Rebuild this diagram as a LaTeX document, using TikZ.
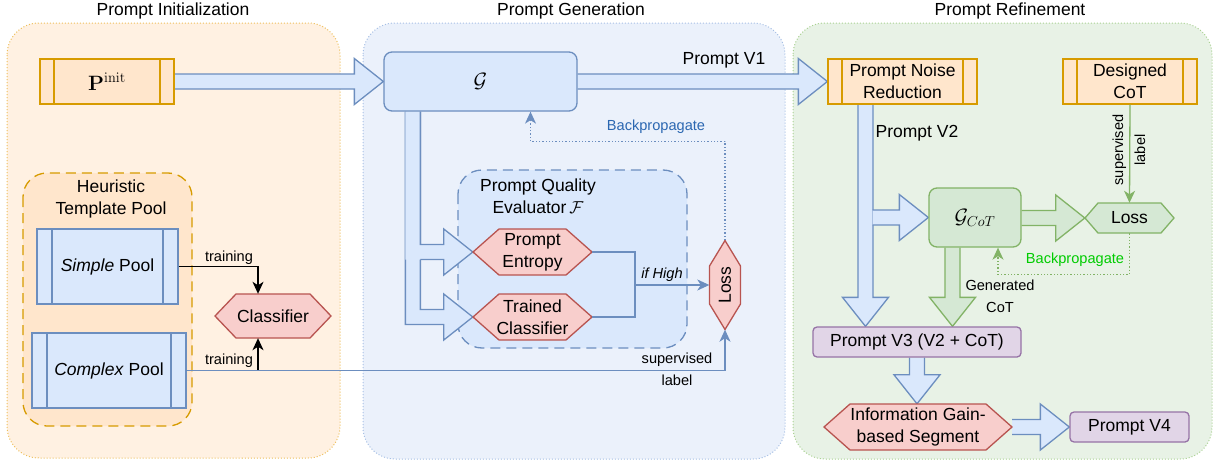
\documentclass[tikz,border=0pt]{standalone}
\usepackage{graphicx}
\usepackage[no-math]{fontspec}
\setsansfont{Liberation Sans}
\usetikzlibrary{arrows.meta,calc}
\definecolor{obg}{HTML}{FFF1E2}
\definecolor{bbg}{HTML}{EBF1FB}
\definecolor{gbg}{HTML}{E8F2E6}
\definecolor{obord}{HTML}{EDBE5A}
\definecolor{bbord}{HTML}{A6BFE4}
\definecolor{gbord}{HTML}{A9D191}
\definecolor{ofill}{HTML}{FFE6CC}
\definecolor{odraw}{HTML}{D79B00}
\definecolor{bfill}{HTML}{DAE8FC}
\definecolor{bdraw}{HTML}{6C8EBF}
\definecolor{gfill}{HTML}{D5E8D4}
\definecolor{gdraw}{HTML}{82B366}
\definecolor{rfill}{HTML}{F8CECC}
\definecolor{rdraw}{HTML}{B85450}
\definecolor{pfill}{HTML}{E1D5E7}
\definecolor{pdraw}{HTML}{9673A6}
\definecolor{bptext}{HTML}{2B67B1}
\definecolor{gptext}{HTML}{00CC00}
\newcommand\mainf{\sffamily\fontsize{17.5}{22}\selectfont}
\newcommand\smallf{\sffamily\fontsize{14.6}{22}\selectfont}
\newcommand\bigf{\fontsize{20}{22}\selectfont}
\pgfdeclarelayer{bg}
\pgfdeclarelayer{mid}
\pgfsetlayers{bg,mid,main}
% right-pointing flex arrow: start x from #2, tip #3
\newcommand\rflex[3]{\path[#1] let \p1=(#2), \p2=(#3) in (\x1,\y2+7.5pt) -- (\x2-29pt,\y2+7.5pt) -- (\x2-29pt,\y2+23pt) -- (\x2,\y2) -- (\x2-29pt,\y2-23pt) -- (\x2-29pt,\y2-7.5pt) -- (\x1,\y2-7.5pt);}
% down-pointing flex arrow: start #2, tip y from #3
\newcommand\dflex[3]{\path[#1] let \p1=(#2), \p2=(#3) in (\x1-7.5pt,\y1) -- (\x1-7.5pt,\y2+29pt) -- (\x1-23pt,\y2+29pt) -- (\x1,\y2) -- (\x1+23pt,\y2+29pt) -- (\x1+7.5pt,\y2+29pt) -- (\x1+7.5pt,\y1);}
% hexagon node: fill, draw, name, x, y, w, h, indent, text
\newcommand\hexnode[9]{%
 \draw[fill=#1,draw=#2,line width=1.3pt] ({#4-#6/2},#5) -- ({#4-#6/2+#8},{#5-#7/2}) -- ({#4+#6/2-#8},{#5-#7/2}) -- ({#4+#6/2},#5) -- ({#4+#6/2-#8},{#5+#7/2}) -- ({#4-#6/2+#8},{#5+#7/2}) -- cycle;
 \node[inner sep=0pt,minimum width=#6pt,minimum height=#7pt,align=center,font=\mainf] (#3) at (#4,#5) {#9};}
\begin{document}
\begin{tikzpicture}[x=1pt,y=-1pt,
  panel/.style={dotted,line width=1pt,rounded corners=32pt},
  region/.style={line width=1.3pt,dash pattern=on 10pt off 6pt,rounded corners=24pt},
  procO/.style={draw=odraw,fill=ofill,line width=1.3pt,inner sep=0pt,align=center,font=\mainf,
    path picture={\draw[odraw,line width=1.3pt] ([xshift=14pt]path picture bounding box.north west) -- ([xshift=14pt]path picture bounding box.south west) ([xshift=-14pt]path picture bounding box.north east) -- ([xshift=-14pt]path picture bounding box.south east);}},
  procB/.style={draw=bdraw,fill=bfill,line width=1.3pt,inner sep=0pt,align=center,font=\mainf,
    path picture={\draw[bdraw,line width=1.3pt] ([xshift=15pt]path picture bounding box.north west) -- ([xshift=15pt]path picture bounding box.south west) ([xshift=-15pt]path picture bounding box.north east) -- ([xshift=-15pt]path picture bounding box.south east);}},
  rbox/.style={line width=1.3pt,rounded corners=8pt,inner sep=0pt,align=center,font=\mainf},
  pbox/.style={draw=pdraw,fill=pfill,line width=1.3pt,rounded corners=4pt,inner sep=0pt,align=center,font=\mainf},
  bflex/.style={fill=bfill,draw=bdraw,line width=1.3pt},
  gflex/.style={fill=gfill,draw=gdraw,line width=1.3pt},
  tip/.style={-{Stealth[length=12pt,width=11pt,inset=3.5pt]}},
  blk/.style={black,line width=1.3pt,tip},
  bcon/.style={draw=bdraw,line width=1.3pt},
  gcon/.style={draw=gdraw,line width=1.3pt},
  lab/.style={font=\smallf,align=center,inner sep=0pt},
  ttl/.style={font=\mainf,inner sep=0pt}]
\useasboundingbox (0,0) rectangle (1216,463);
% ---------- panels ----------
\begin{pgfonlayer}{bg}
\draw[panel,fill=obg,draw=obord] (7,23) rectangle (340,458);
\draw[panel,fill=bbg,draw=bbord] (363,23) rectangle (785,459);
\draw[panel,fill=gbg,draw=gbord] (793,23) rectangle (1212,459);
\draw[region,fill=ofill,draw=odraw] (23,173) rectangle (192,426);
\draw[region,fill=bfill,draw=bdraw] (458,170) rectangle (687,348);
\end{pgfonlayer}
\node[ttl] (t1) at (173,11) {Prompt Initialization};
\node[ttl] (t2) at (571,11) {Prompt Generation};
\node[ttl] (t3) at (1010,11) {Prompt Refinement};
% ---------- left ----------
\node[procO,minimum width=134pt,minimum height=45pt] (pinit) at (107,81.5) {\bigf$\mathbf{P}^{\mathrm{init}}$};
\node[font=\mainf,align=center,inner sep=0pt] (heur) at (111,199) {Heuristic\\Template Pool};
\node[procB,minimum width=141pt,minimum height=75pt] (simple) at (107.5,266.5) {\textit{Simple} Pool};
\node[procB,minimum width=154pt,minimum height=75pt] (complex) at (109,370.5) {\textit{Complex} Pool};
\hexnode{rfill}{rdraw}{classifier}{273}{316}{116}{44}{21}{Classifier}
% ---------- middle ----------
\node[rbox,draw=bdraw,fill=bfill,minimum width=193pt,minimum height=59pt] (G) at (480.5,81.5) {\bigf$\mathcal{G}$};
\node[font=\mainf,align=center,inner sep=0pt] (evt) at (538,196) {Prompt Quality\\Evaluator\,$\mathcal{F}$};
\hexnode{rfill}{rdraw}{entropy}{532.5}{252}{119}{46}{26}{Prompt\\Entropy}
\hexnode{rfill}{rdraw}{trained}{532.5}{317}{119}{46}{26}{Trained\\Classifier}
\draw[fill=rfill,draw=rdraw,line width=1.3pt] (725,240.5) -- (740.5,266) -- (740.5,304) -- (725,329.5) -- (709.5,304) -- (709.5,266) -- cycle;
\node[inner sep=0pt,minimum width=31pt,minimum height=89pt,font=\mainf] (loss1) at (725,285) {\rotatebox{90}{Loss}};
\coordinate (join) at (635,285);
% ---------- right ----------
\node[procO,minimum width=149pt,minimum height=45pt] (noise) at (902.5,81.5) {Prompt Noise\\Reduction};
\node[procO,minimum width=134pt,minimum height=45pt] (designed) at (1130,81.5) {Designed\\CoT};
\node[rbox,draw=gdraw,fill=gfill,minimum width=92pt,minimum height=59pt] (gcot) at (975,217.5) {\bigf$\mathcal{G}_{CoT}$};
\hexnode{gfill}{gdraw}{loss2}{1129.5}{218}{89}{30}{13}{Loss}
\node[pbox,minimum width=208pt,minimum height=30pt] (v3) at (917,342) {Prompt V3 (V2 + CoT)};
\hexnode{rfill}{rdraw}{ig}{918}{427}{188}{46}{26}{Information Gain-\\based Segment}
\node[pbox,minimum width=119pt,minimum height=30pt] (v4) at (1129.5,427) {Prompt V4};
% ---------- flex arrows ----------
\begin{pgfonlayer}{mid}
\rflex{bflex}{pinit.east}{G.west}
\rflex{bflex}{G.east}{noise.west}
\path[bflex] let \p1=([xshift=22pt]G.south west), \p2=(trained.west) in (\x1,\y1) -- (\x1,\y2-7.5pt) -- (\x2-29pt,\y2-7.5pt) -- (\x2-29pt,\y2-23pt) -- (\x2,\y2) -- (\x2-29pt,\y2+23pt) -- (\x2-29pt,\y2+7.5pt) -- (\x1+15pt,\y2+7.5pt) -- (\x1+15pt,\y1);
\path[fill=bfill] let \p1=([xshift=22pt]G.south west), \p2=(entropy.west) in (\x1,\y1) -- (\x1,\y2-7.5pt) -- (\x2-29pt,\y2-7.5pt) -- (\x2-29pt,\y2-23pt) -- (\x2,\y2) -- (\x2-29pt,\y2+23pt) -- (\x2-29pt,\y2+7.5pt) -- (\x1+15pt,\y2+7.5pt) -- (\x1+15pt,\y1) -- cycle;
\path[draw=bdraw,line width=1.3pt] let \p1=([xshift=22pt]G.south west), \p2=(entropy.west) in (\x1+15pt,\y1) -- (\x1+15pt,\y2+7.5pt) -- (\x2-29pt,\y2+7.5pt) -- (\x2-29pt,\y2+23pt) -- (\x2,\y2) -- (\x2-29pt,\y2-23pt) -- (\x2-29pt,\y2-7.5pt) -- (\x1+15pt,\y2-7.5pt);
\dflex{bflex}{[xshift=-37pt]noise.south}{v3.north}
\rflex{bflex}{[xshift=-30pt]noise.south}{gcot.west}
\rflex{gflex}{gcot.east}{loss2.west}
\dflex{gflex}{[xshift=-22.5pt]gcot.south}{v3.north}
\dflex{bflex}{v3.south}{ig.north}
\rflex{bflex}{ig.east}{v4.west}
\end{pgfonlayer}
% ---------- thin connectors ----------
\draw[blk] (simple.east) -| ([xshift=-15pt]classifier.north);
\draw[blk] (complex.east) -| ([xshift=-15pt]classifier.south);
\draw[bcon,tip] (complex.east) -| (loss1.south);
\draw[bcon] (entropy.east) -| (join);
\draw[bcon] (trained.east) -| (join);
\draw[bcon,tip] (join) -- (loss1.west);
\draw[bcon,dotted,tip] (loss1.north) -- ++(0,-99) -| ([xshift=50pt]G.south);
\draw[gcon,tip] (designed.south) -- (loss2.north);
\draw[gcon,dotted,tip] (loss2.south) -- ++(0,41) -| ([xshift=23pt]gcot.south);
% ---------- labels ----------
\node[lab] (l1) at (229,258) {training};
\node[lab] (l2) at (229,361) {training};
\node[lab] (l3) at (662,275) {\textit{if High}};
\node[lab] (l4) at (677,369) {supervised\\label};
\node[lab,text=bptext] (l5) at (656,127) {Backpropagate};
\node[ttl] (l6) at (724,60) {Prompt V1};
\node[ttl] (l7) at (917,133) {Prompt V2};
\node[lab,rotate=90] (l8) at (1129,150) {supervised\\label};
\node[lab,text=gptext] (l9) at (1075,260) {Backpropagate};
\node[lab] (l10) at (1000,296) {Generated\\CoT};
\end{tikzpicture}
\end{document}
